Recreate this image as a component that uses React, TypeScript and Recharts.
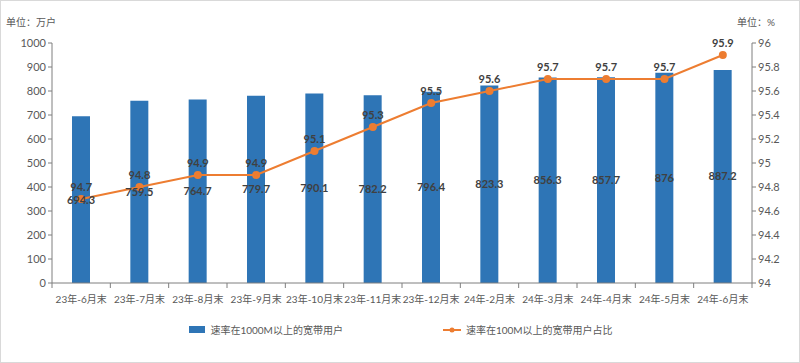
import React from "react"
import {
  ComposedChart,
  Bar,
  Line,
  XAxis,
  YAxis,
  Legend,
  LabelList,
} from "recharts"

const months = [
  "23年-6月末",
  "23年-7月末",
  "23年-8月末",
  "23年-9月末",
  "23年-10月末",
  "23年-11月末",
  "23年-12月末",
  "24年-2月末",
  "24年-3月末",
  "24年-4月末",
  "24年-5月末",
  "24年-6月末",
]
const gigabitUsers = [694.3, 759.5, 764.7, 779.7, 790.1, 782.2, 796.4, 823.3, 856.3, 857.7, 876, 887.2]
const share100M = [94.7, 94.8, 94.9, 94.9, 95.1, 95.3, 95.5, 95.6, 95.7, 95.7, 95.7, 95.9]
const leftTicks = [0, 100, 200, 300, 400, 500, 600, 700, 800, 900, 1000]
const rightTicks = [94, 94.2, 94.4, 94.6, 94.8, 95, 95.2, 95.4, 95.6, 95.8, 96]

const barName = "速率在1000M以上的宽带用户"
const lineName = "速率在100M以上的宽带用户占比"

const data = months.map((m, i) => ({
  month: m,
  users: gigabitUsers[i],
  share: share100M[i],
}))

const FONT = "Lato, 'Noto Sans CJK SC', sans-serif"
const BLUE = "#2E75B6"
const ORANGE = "#ED7D31"
const AXIS = "#7f7f7f"
const TICK_TEXT = "#595959"

// excel style: tick marks sit between categories, not under them
const CategoryTick = (props: any) => {
  const { x, y, payload, index } = props
  const half = payload.offset ?? 0
  return (
    <g>
      <line x1={x - half} x2={x - half} y1={y - 8} y2={y - 3} stroke={AXIS} />
      {index === months.length - 1 && (
        <line x1={x + half} x2={x + half} y1={y - 8} y2={y - 3} stroke={AXIS} />
      )}
      <text x={x} y={y + 12} textAnchor="middle" fill={TICK_TEXT} fontSize={10} fontFamily={FONT}>
        {payload.value}
      </text>
    </g>
  )
}

const LegendContent = () => (
  <div
    style={{
      display: "flex",
      justifyContent: "center",
      gap: 100,
      fontSize: 10,
      color: TICK_TEXT,
      fontFamily: FONT,
    }}
  >
    <div style={{ display: "flex", alignItems: "center" }}>
      <span style={{ display: "inline-block", width: 16, height: 7, background: BLUE, marginRight: 5 }} />
      {barName}
    </div>
    <div style={{ display: "flex", alignItems: "center" }}>
      <svg width={18} height={8} style={{ marginRight: 5 }}>
        <line x1={0} x2={18} y1={4} y2={4} stroke={ORANGE} strokeWidth={2} />
        <circle cx={9} cy={4} r={2.5} fill={ORANGE} />
      </svg>
      {lineName}
    </div>
  </div>
)

export default function App() {
  return (
    <div
      style={{
        position: "fixed",
        left: 0,
        top: 0,
        width: 800,
        height: 363,
        background: "#fff",
        boxSizing: "border-box",
        border: "1px solid #d9d9d9",
        fontFamily: FONT,
      }}
    >
      <span style={{ position: "absolute", left: 5, top: 13, fontSize: 10, color: TICK_TEXT }}>单位：万户</span>
      <span style={{ position: "absolute", left: 736, top: 13, fontSize: 10, color: TICK_TEXT }}>单位：%</span>
      <div style={{ position: "absolute", left: -1, top: -1 }}>
        <ComposedChart
          width={800}
          height={363}
          data={data}
          margin={{ top: 43, right: 8, bottom: 21, left: 10 }}
        >
          <XAxis
            dataKey="month"
            height={39}
            tickLine={false}
            axisLine={{ stroke: AXIS }}
            tick={<CategoryTick />}
            interval={0}
          />
          <YAxis
            yAxisId="left"
            width={42}
            domain={[0, 1000]}
            ticks={leftTicks}
            interval={0}
            tickSize={4}
            tickLine={{ stroke: AXIS }}
            axisLine={{ stroke: AXIS }}
            tick={{ fill: TICK_TEXT, fontSize: 11, fontFamily: FONT }}
          />
          <YAxis
            yAxisId="right"
            orientation="right"
            width={40}
            domain={[94, 96]}
            ticks={rightTicks}
            interval={0}
            tickSize={4}
            tickLine={{ stroke: AXIS }}
            axisLine={{ stroke: AXIS }}
            tickFormatter={(v: number) => String(Number(v.toFixed(1)))}
            tick={{ fill: TICK_TEXT, fontSize: 11, fontFamily: FONT }}
          />
          <Legend verticalAlign="bottom" height={20} content={<LegendContent />} />
          <Bar
            yAxisId="left"
            dataKey="users"
            name={barName}
            fill={BLUE}
            barSize={18}
            isAnimationActive={false}
          >
            <LabelList
              dataKey="users"
              position="center"
              fill="#404040"
              fontSize={11}
              fontWeight="bold"
              fontFamily={FONT}
            />
          </Bar>
          <Line
            yAxisId="right"
            dataKey="share"
            name={lineName}
            stroke={ORANGE}
            strokeWidth={2}
            dot={{ r: 3, fill: ORANGE, stroke: ORANGE }}
            isAnimationActive={false}
          >
            <LabelList
              dataKey="share"
              position="top"
              offset={8}
              fill="#404040"
              fontSize={11}
              fontWeight="bold"
              fontFamily={FONT}
            />
          </Line>
        </ComposedChart>
      </div>
    </div>
  )
}
